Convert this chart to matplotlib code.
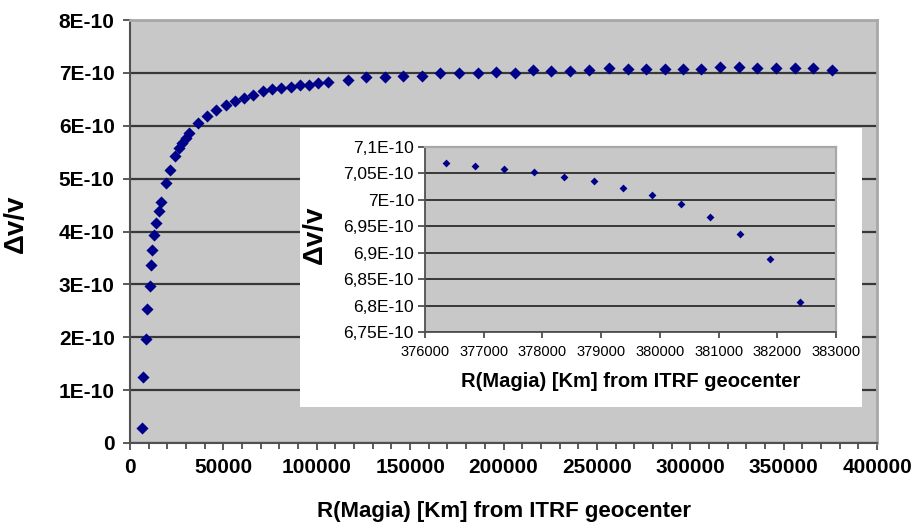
import matplotlib
matplotlib.use("Agg")
import matplotlib.pyplot as plt
import numpy as np
from matplotlib.patches import Rectangle
from matplotlib.ticker import FixedLocator, MultipleLocator, FuncFormatter

plt.rcParams["font.family"] = ["Liberation Sans", "DejaVu Sans"]

# main curve: distance from geocenter [km] and dv/v in units of 1E-10
r_main = [6260, 6970, 8400, 9300, 10600, 11100, 12000, 12900, 14100, 15500,
          16400, 19100, 21400, 24000, 26300, 28100, 29900, 31600, 36500, 41400,
          46300, 51300, 56100, 61100, 66100, 71100, 76100, 81100, 86000, 91000,
          96000, 100800, 106200, 116500, 126500, 136600, 146400, 156200, 166200,
          176400, 186200, 196100, 205900, 215700, 225600, 235800, 245800, 256300,
          266400, 276200, 286300, 296200, 306000, 315800, 326000, 336000, 345800,
          356000, 365900, 376100]
dv_main = [0.29, 1.24, 1.96, 2.53, 2.96, 3.37, 3.65, 3.93, 4.17, 4.38,
           4.55, 4.92, 5.16, 5.42, 5.57, 5.67, 5.76, 5.86, 6.05, 6.19,
           6.30, 6.39, 6.47, 6.53, 6.58, 6.66, 6.69, 6.72, 6.74, 6.77,
           6.78, 6.80, 6.83, 6.87, 6.92, 6.93, 6.95, 6.95, 6.99,
           6.99, 7.00, 7.02, 7.00, 7.05, 7.04, 7.04, 7.05, 7.09,
           7.07, 7.07, 7.07, 7.07, 7.07, 7.12, 7.11, 7.10, 7.10,
           7.10, 7.09, 7.06]

# zoom near the Moon
r_zoom = [376350, 376860, 377350, 377860, 378360, 378870, 379370, 379860,
          380360, 380860, 381370, 381880, 382380]
dv_zoom = [7.069, 7.064, 7.059, 7.052, 7.043, 7.035, 7.023, 7.010,
           6.992, 6.968, 6.935, 6.888, 6.807]

main_yticks = [0, 1, 2, 3, 4, 5, 6, 7, 8]
zoom_yticks = [6.75, 6.80, 6.85, 6.90, 6.95, 7.00, 7.05, 7.10]
xlabel = "R(Magia) [Km] from ITRF geocenter"
ylabel = "\u0394v/v"

E = 1e-10
plot_bg = "#c8c8c8"
grid_c = "#383838"
marker_c = "#000088"


def main_fmt(v, pos):
    if abs(v) < 1e-20:
        return "0"
    return f"{v / E:g}E-10"


def zoom_fmt(v, pos):
    return f"{round(v / E, 2):g}".replace(".", ",") + "E-10"


fig = plt.figure(figsize=(9.13, 5.29), dpi=100)

ax = fig.add_axes([130 / 913, 1 - 443 / 529, 747 / 913, 423 / 529])
ax.set_facecolor(plot_bg)
ax.scatter(r_main, np.array(dv_main) * E, marker="D", s=38, color=marker_c,
           linewidths=0, zorder=3)
ax.set_xlim(0, 400000)
ax.set_ylim(0, 8 * E)
ax.xaxis.set_major_locator(MultipleLocator(50000))
ax.xaxis.set_minor_locator(MultipleLocator(10000))
ax.yaxis.set_major_locator(FixedLocator(np.array(main_yticks) * E))
ax.yaxis.set_major_formatter(FuncFormatter(main_fmt))
ax.yaxis.grid(True, color=grid_c, lw=1.6)
ax.set_axisbelow(True)
ax.tick_params(axis="both", which="major", direction="out", length=5,
               width=1.2, color="#404040", labelsize=15, pad=6)
ax.tick_params(axis="x", which="minor", direction="out", length=4,
               width=1.2, color="#404040")
for lab in ax.get_xticklabels() + ax.get_yticklabels():
    lab.set_fontweight("bold")
for side in ("left", "bottom"):
    ax.spines[side].set_color("#505050")
    ax.spines[side].set_linewidth(1.5)
for side in ("top", "right"):
    ax.spines[side].set_color("#a8a8a8")
    ax.spines[side].set_linewidth(2)
ax.set_xlabel(xlabel, fontsize=16, fontweight="bold")
ax.xaxis.set_label_coords(0.5, -0.138)
ax.set_ylabel(ylabel, fontsize=20, fontweight="bold")
ax.yaxis.set_label_coords(-0.136, 0.518)

# white box under the inset
fig.patches.append(Rectangle((300 / 913, 1 - 407 / 529), 562 / 913, 279 / 529,
                             transform=fig.transFigure, facecolor="white",
                             edgecolor="none", zorder=5))

ins = fig.add_axes([425 / 913, 1 - 332 / 529, 411 / 913, 185 / 529], zorder=6)
ins.set_facecolor(plot_bg)
ins.scatter(r_zoom, np.array(dv_zoom) * E, marker="D", s=16, color=marker_c,
            linewidths=0, zorder=3)
ins.set_xlim(376000, 383000)
ins.set_ylim(6.75 * E, 7.1 * E)
ins.xaxis.set_major_locator(MultipleLocator(1000))
ins.yaxis.set_major_locator(FixedLocator(np.array(zoom_yticks) * E))
ins.yaxis.set_major_formatter(FuncFormatter(zoom_fmt))
ins.yaxis.grid(True, color=grid_c, lw=1.4)
ins.set_axisbelow(True)
ins.tick_params(axis="y", direction="out", length=5, width=1.2,
                color="#404040", labelsize=12.5, pad=3)
ins.tick_params(axis="x", direction="out", length=4, width=1.2,
                color="#404040", labelsize=10.5, pad=5)
for side in ("left", "bottom"):
    ins.spines[side].set_color("#505050")
    ins.spines[side].set_linewidth(1.3)
for side in ("top", "right"):
    ins.spines[side].set_color("#a8a8a8")
    ins.spines[side].set_linewidth(1.6)
ins.set_xlabel(xlabel, fontsize=14.5, fontweight="bold")
ins.xaxis.set_label_coords(0.5, -0.215)
ins.set_ylabel(ylabel, fontsize=20, fontweight="bold")
ins.yaxis.set_label_coords(-0.236, 0.524)

fig.savefig("out.png", dpi=100)
